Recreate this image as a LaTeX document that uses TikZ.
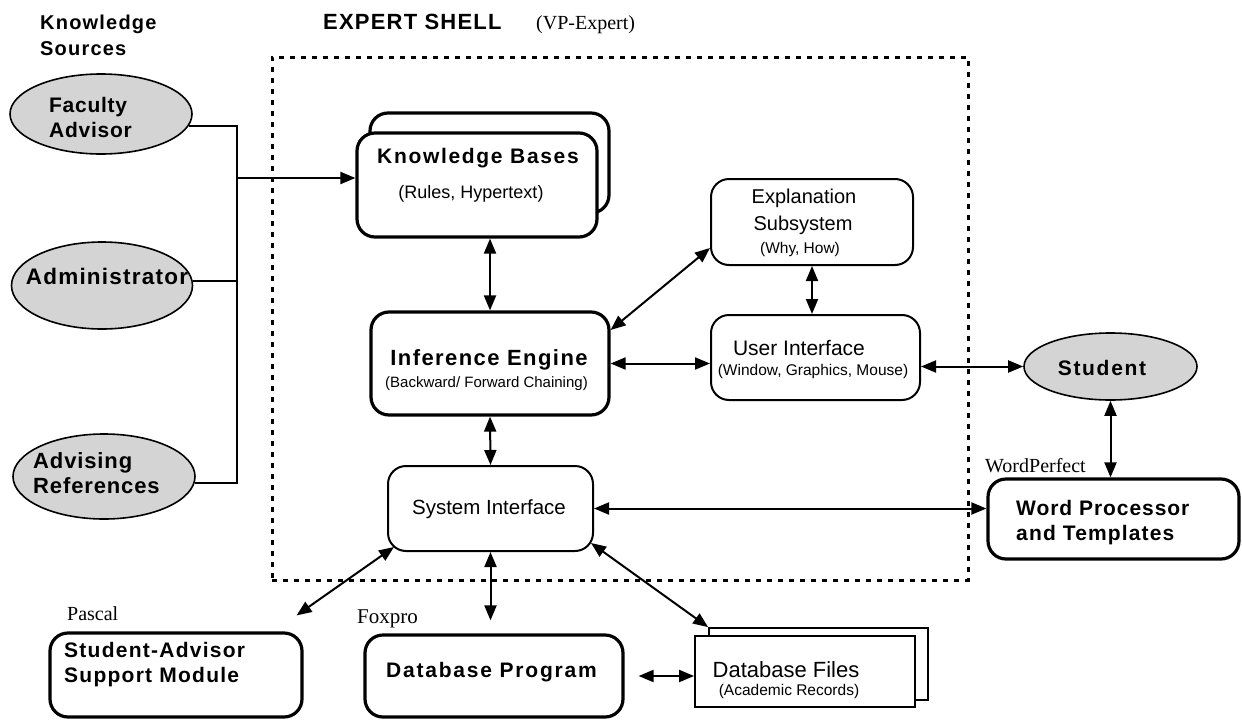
\documentclass[tikz,border=0pt]{standalone}
\usepackage{fontspec}
\setmainfont{Liberation Sans}
\newfontfamily\tms{Liberation Serif}
\usetikzlibrary{shapes.geometric,arrows.meta,calc}
\newcommand\fsz[1]{\fontsize{#1}{#1}\selectfont}
\newcommand\bsp[2]{\bfseries\fontsize{#1}{#1}\selectfont\addfontfeature{LetterSpace=#2}}
\begin{document}
\begin{tikzpicture}[x=1pt,y=-1pt, >={Triangle[length=15pt,width=12pt]},
  box/.style={draw, rounded corners=18pt, line width=3.2pt, fill=white, inner sep=0pt},
  sbox/.style={draw, rounded corners=18pt, line width=2pt, fill=white, inner sep=0pt},
  fbox/.style={draw, line width=1.8pt, fill=white, inner sep=0pt},
  src/.style={ellipse, draw, line width=1.6pt, fill=black!17, inner sep=0pt},
  conn/.style={line width=2pt},
  lt/.style={inner sep=0pt, anchor=base west},
  ct/.style={inner sep=0pt, anchor=base},
]
\useasboundingbox (0,0) rectangle (1242,720);

% expert shell frame
\node[draw, line width=3pt, dash pattern=on 5pt off 6pt, minimum width=696pt, minimum height=523pt] (shell) at (620,318.5) {};

% knowledge sources
\node[src, minimum width=182pt, minimum height=80pt] (fa) at (101,114) {};
\node[src, minimum width=181pt, minimum height=87pt] (ad) at (102,285.5) {};
\node[src, minimum width=182pt, minimum height=85pt] (ar) at (104,476.5) {};
\node[src, minimum width=173pt, minimum height=67pt] (st) at (1110.5,366.5) {};

% boxes
\node[box, minimum width=239pt, minimum height=100pt] (kbb) at (489.5,163) {};
\node[box, minimum width=240pt, minimum height=104pt] (kb) at (477,185) {};
\node[box, minimum width=238pt, minimum height=103pt] (ie) at (490,363.5) {};
\node[sbox, minimum width=202pt, minimum height=86pt] (ex) at (812,222) {};
\node[sbox, minimum width=209pt, minimum height=85pt] (ui) at (815.5,357.5) {};
\node[sbox, minimum width=205pt, minimum height=85pt] (si) at (490.5,508.5) {};
\node[box, minimum width=252pt, minimum height=84pt] (sam) at (176,675) {};
\node[box, minimum width=258pt, minimum height=82pt] (dbp) at (494,676) {};
\node[box, minimum width=251pt, minimum height=80pt] (wp) at (1113.5,519) {};
\node[fbox, minimum width=219pt, minimum height=72pt] (dbfb) at (818.5,664) {};
\node[fbox, minimum width=220pt, minimum height=71pt] (dbf) at (805,671.5) {};

% texts
\node[lt, font=\bsp{20}{6}] (ks1) at (40,29) {Knowledge};
\node[lt, font=\bsp{20}{6}] (ks2) at (40,55) {Sources};
\node[lt, font=\bsp{22}{5.5}] (es) at (323,29) {EXPERT SHELL};
\node[lt, font=\tms\fsz{20}] (vp) at (536,29) {(VP-Expert)};

\node[lt, font=\bsp{21}{3.5}] (fa1) at (49,112) {Faculty};
\node[lt, font=\bsp{21}{3.5}] (fa2) at (49,137) {Advisor};
\node[ct, font=\bsp{22.5}{5.5}] (ad1) at (107,284) {Administrator};
\node[lt, font=\bsp{22}{4}] (ar1) at (33,468) {Advising};
\node[lt, font=\bsp{22}{4}] (ar2) at (33,493) {References};
\node[ct, font=\bsp{21}{8}] (st1) at (1102,375) {Student};

\node[ct, font=\bsp{21}{8}] (kb1) at (478,163) {Knowledge Bases};
\node[ct, font=\fsz{18}] (kb2) at (471,198) {(Rules, Hypertext)};
\node[ct, font=\bsp{22}{6.5}] (ie1) at (489,365) {Inference Engine};
\node[ct, font=\fsz{15}] (ie2) at (486.5,387) {(Backward/ Forward Chaining)};
\node[ct, font=\fsz{20}] (ex1) at (804,203) {Explanation};
\node[ct, font=\fsz{20}] (ex2) at (803,230) {Subsystem};
\node[ct, font=\fsz{15.5}] (ex3) at (800,253) {(Why, How)};
\node[ct, font=\fsz{21}] (ui1) at (799,355) {User Interface};
\node[ct, font=\fsz{15.5}] (ui2) at (813,375) {(Window, Graphics, Mouse)};
\node[ct, font=\fsz{20.5}] (si1) at (489,514) {System Interface};

\node[lt, font=\tms\fsz{20}] (pas) at (67,620) {Pascal};
\node[lt, font=\bsp{21}{6}] (sam1) at (64,657) {Student-Advisor};
\node[lt, font=\bsp{21}{6}] (sam2) at (64,682) {Support Module};
\node[lt, font=\tms\fsz{21}] (fox) at (357,623) {Foxpro};
\node[ct, font=\bsp{21}{8.5}] (dbp1) at (491.5,677) {Database Program};
\node[ct, font=\fsz{22}] (dbf1) at (786,677) {Database Files};
\node[ct, font=\fsz{15.5}] (dbf2) at (789,695) {(Academic Records)};
\node[lt, font=\tms\fsz{20}] (wpf) at (985,472) {WordPerfect};
\node[lt, font=\bsp{21}{4.5}] (wp1) at (1016,515) {Word Processor};
\node[lt, font=\bsp{21}{5.5}] (wp2) at (1016,540) {and Templates};

% knowledge source connectors
\coordinate (j0) at (237,178);
\coordinate (j3) at (237,483);
\draw[conn] (fa.-8) -| (j3) -- (j3 -| ar.-4);
\draw[conn] (ad.3) -- (ad.3 -| j0);
\draw[conn,->] (j0) -- (j0 -| kb.west);

% shell connectors
\draw[conn,<->] (ie.north) -- (ie.north |- kb.south);
\draw[conn,<->] (ie.south) -- (si.north);
\draw[conn,<->] (ex.south) -- (ex.south |- ui.north);
\draw[conn,<->] ($(ex.west)+(0,26)$) -- ($(ie.east)+(0,-33.5)$);
\draw[conn,<->] (ie.east) -- (ie.east -| ui.west);
\draw[conn,<->] (ui.east |- st.west) -- (st.west);
\draw[conn,<->] (st.south) -- (st.south |- wp.north);
\draw[conn,<->] (si.east) -- (si.east -| wp.west);
\draw[conn,<->,shorten >=13pt] (si.south) -- (si.south |- dbp.north);
\draw[conn,<->,shorten <=14pt] (dbp.east) -- (dbp.east -| dbf.west);
\draw[conn,<->] ($(si.south east)+(-3,-9)$) -- (dbfb.north west);
\draw[conn,<->] ($(si.south west)+(7,-5)$) -- ($(sam.north east)+(-7,-16)$);
\end{tikzpicture}
\end{document}
